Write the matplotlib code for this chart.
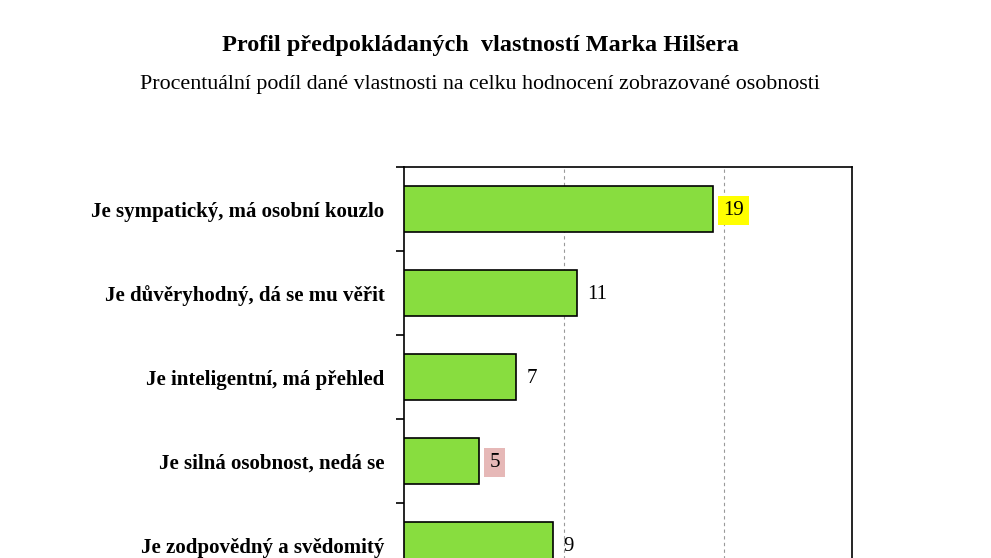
import numpy as np
import matplotlib.pyplot as plt

# data (bar lengths in %, labels are rounded)
categories = ["Je sympatický, má osobní kouzlo",
              "Je důvěryhodný, dá se mu věřit",
              "Je inteligentní, má přehled",
              "Je silná osobnost, nedá se",
              "Je zodpovědný a svědomitý"]
values = [19.3, 10.8, 7.0, 4.7, 9.3]
label_bg = ["#FFFF00", None, None, "#E6B8B7", None]

title = "Profil předpokládaných  vlastností Marka Hilšera"
subtitle = "Procentuální podíl dané vlastnosti na celku hodnocení zobrazované osobnosti"

plt.rcParams['font.family'] = ['Liberation Serif', 'DejaVu Serif']

W, H = 991, 558
fig = plt.figure(figsize=(W / 100, H / 100), dpi=100)
fig.patch.set_facecolor("white")

# axes: left 404px, right 852px, top 167px, 84px per category (bottom cut off)
left, right, top = 404, 852, 167
n = len(categories)
bottom = top + 84 * n
ax = fig.add_axes([left / W, 1 - bottom / H, (right - left) / W, (bottom - top) / H])

y = np.arange(n)
ax.barh(y, values, height=0.55, color="#88DD3F", edgecolor="black", linewidth=1.2, zorder=3)

for i, v in enumerate(values):
    bbox = None
    if label_bg[i]:
        bbox = dict(boxstyle="square,pad=0.25", fc=label_bg[i], ec="none")
    ax.text(v + 0.65, i + 0.02, str(int(round(v))), va="center", ha="left",
            fontsize=15, color="black", bbox=bbox, zorder=4)

ax.set_xlim(0, 28)
ax.set_ylim(n - 0.5, -0.5)
ax.set_xticks([10, 20])
ax.xaxis.grid(True, linestyle=(0, (3, 3)), color="#999999", linewidth=0.8, zorder=0)
ax.tick_params(axis="x", length=0, labelbottom=False)

ax.set_yticks(y)
ax.set_yticklabels(categories, fontsize=15, fontweight="bold")
ax.tick_params(axis="y", which="major", length=0, pad=14)
ax.set_yticks(np.arange(-0.5, n, 1.0), minor=True)
ax.tick_params(axis="y", which="minor", length=6, width=1.2, direction="out")

for s in ax.spines.values():
    s.set_linewidth(1.2)
    s.set_color("black")

fig.text(480 / W, 1 - 46 / H, title, ha="center", va="center",
         fontsize=17.5, fontweight="bold")
fig.text(480 / W, 1 - 85 / H, subtitle, ha="center", va="center", fontsize=15.8)

fig.savefig("out.png", dpi=100)
